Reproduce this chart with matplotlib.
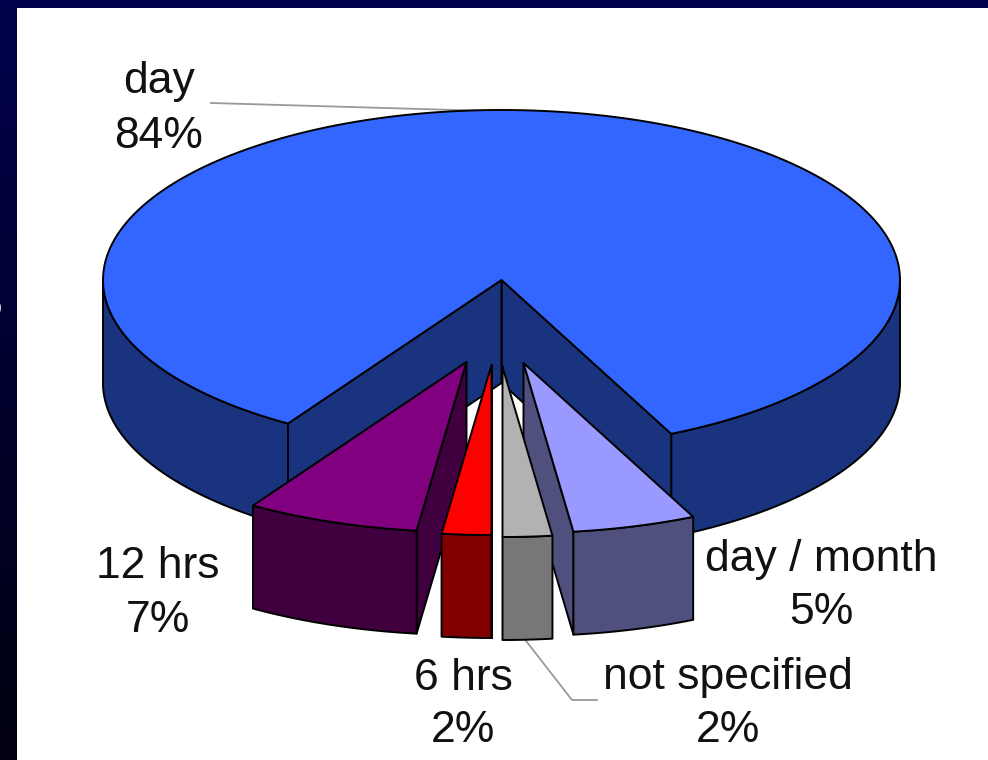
import numpy as np
import matplotlib
matplotlib.use("Agg")
import matplotlib.pyplot as plt
from matplotlib.patches import Polygon, Rectangle

# slices, clockwise from the 6 o'clock line
names = ["not specified", "day / month", "day", "12 hrs", "6 hrs"]
shares = [2, 5, 84, 7, 2]
top_colors = ["#b2b2b2", "#9999ff", "#3366ff", "#800080", "#ff0000"]
side_colors = ["#777777", "#50507f", "#1a337f", "#400040", "#800000"]

# label centres, first line then second line
label_pos = {"not specified": (728, 678, 731),
             "day / month": (821, 560, 613),
             "day": (159, 82, 136),
             "12 hrs": (158, 567, 620),
             "6 hrs": (463, 678, 731)}

# how far each slice is pulled out of the pie, in pixels
pull = {"not specified": (1, 87),
        "day / month": (22, 83),
        "day": (0, 0),
        "12 hrs": (-35, 82),
        "6 hrs": (-10, 85)}

cx, cy = 501.5, 280
rx, ry = 398.5, 170
depth = 103


def rim(a, b, off, dz=0):
    t = np.radians(np.linspace(a, b, 200))
    return np.column_stack([cx + off[0] + rx*np.sin(t),
                            cy + off[1] + ry*np.cos(t) + dz])


def tip(off, dz=0):
    return np.array([[cx + off[0], cy + off[1] + dz]])


def poly(ax, pts, color, z):
    ax.add_patch(Polygon(pts, closed=True, facecolor=color, edgecolor="#000000",
                         linewidth=1.4, joinstyle="round", zorder=z))


def inner_wall(ax, a, off, color, z):
    e = rim(a, a, off)[:1]
    e2 = rim(a, a, off, depth)[:1]
    poly(ax, np.vstack([tip(off), e, e2, tip(off, depth)]), color, z)


def outer_wall(ax, a, b, off, color, z):
    poly(ax, np.vstack([rim(a, b, off), rim(a, b, off, depth)[::-1]]), color, z)


def draw_slice(ax, a, b, off, top, side, z):
    # only the faces that turn towards the viewer
    if a < 90 and b > 270:
        outer_wall(ax, a, 90, off, side, z)
        outer_wall(ax, 270, b, off, side, z)
        inner_wall(ax, a, off, side, z)
        inner_wall(ax, b, off, side, z)
    elif a < 90:
        inner_wall(ax, a, off, side, z)
        outer_wall(ax, a, b, off, side, z)
    else:
        inner_wall(ax, b, off, side, z)
        outer_wall(ax, a, b, off, side, z)
    poly(ax, np.vstack([tip(off), rim(a, b, off)]), top, z + 0.5)


plt.rcParams["font.family"] = ["Liberation Sans", "DejaVu Sans"]
fig = plt.figure(figsize=(9.88, 7.6), dpi=100)
ax = fig.add_axes([0, 0, 1, 1])

# dark slide background, fading downwards
shade = np.linspace(0, 1, 256).reshape(-1, 1)
navy = np.array([0, 0, 76]) / 255
dark = np.array([0, 0, 16]) / 255
grad = (navy + (dark - navy)*shade)[:, None, :]
ax.imshow(grad, extent=(0, 988, 760, 0), aspect="auto", zorder=0)
ax.set_xlim(0, 988)
ax.set_ylim(760, 0)
ax.axis("off")
ax.add_patch(Rectangle((17, 8), 971, 752, facecolor="white", edgecolor="none", zorder=1))
ax.add_patch(Rectangle((0, 0), 988, 8, facecolor="#00004c", edgecolor="none", zorder=1))

edges = np.concatenate([[0], np.cumsum(shares)]) * 360 / 100
# back to front, the thin middle slices last
order = {"day": 2, "12 hrs": 3, "day / month": 4, "6 hrs": 5, "not specified": 6}
for i, n in enumerate(names):
    draw_slice(ax, edges[i], edges[i + 1], pull[n], top_colors[i], side_colors[i], order[n])

for n, s in zip(names, shares):
    x, y1, y2 = label_pos[n]
    ax.text(x, y1, n, fontsize=32, ha="center", va="center", color="#111111", zorder=10)
    ax.text(x, y2, f"{s}%", fontsize=32, ha="center", va="center", color="#111111", zorder=10)

# leader lines
ax.plot([211, 490], [103, 111], color="#999999", lw=1.3, zorder=1.5)
ax.plot([523, 572, 597], [637, 700, 700], color="#999999", lw=1.3, zorder=1.5)

# piece of slide text cut off by the left edge
ax.text(-10, 306, "5", fontsize=32, ha="center", va="center", color="white", zorder=2)

fig.savefig("out.png", dpi=100)
